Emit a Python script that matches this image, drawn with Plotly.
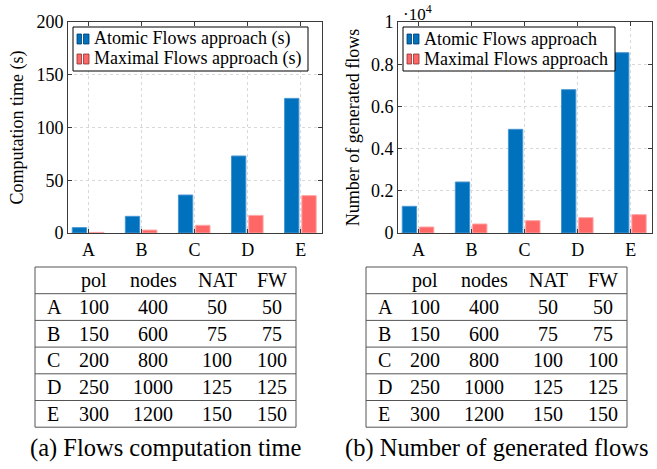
import plotly.graph_objects as go

# ---------------- data ----------------
categories = ["A", "B", "C", "D", "E"]
time_atomic = [5.1, 15.8, 36.0, 73.0, 127.6]
time_maximal = [0.6, 2.8, 7.3, 16.7, 35.4]
flows_atomic = [1264, 2417, 4913, 6793, 8547]
flows_maximal = [284, 427, 585, 727, 869]

flow_ticks = [0, 2000, 4000, 6000, 8000, 10000]
flow_ticktext = ["0", "0.2", "0.4", "0.6", "0.8", "1"]

legend_left = ["Atomic Flows approach (s)", "Maximal Flows approach (s)"]
legend_right = ["Atomic Flows approach", "Maximal Flows approach"]

table_header = ["pol", "nodes", "NAT", "FW"]
pol = [100, 150, 200, 250, 300]
nodes = [400, 600, 800, 1000, 1200]
nat = [50, 75, 100, 125, 150]
fw = [50, 75, 100, 125, 150]

captions = ["(a) Flows computation time", "(b) Number of generated flows"]

# ---------------- style ----------------
W, H = 657, 469
FONT = "Liberation Serif"
BLUE = "rgb(0,113,188)"
BLUE_EDGE = "rgb(70,150,210)"
BLUE_DARK = "rgb(0,60,110)"
RED = "rgb(255,102,102)"
RED_EDGE = "rgb(255,165,165)"
RED_DARK = "rgb(140,50,50)"
FRAME = "#3a3a3a"
GRID = "#d8d8d8"


def fx(p):
    return p / W


def fy(p):
    return 1 - p / H


fig = go.Figure()

bw = 0.27
off_a = -0.305
off_m = 0.02

fig.add_trace(go.Bar(x=categories, y=time_atomic, name=legend_left[0],
                     marker=dict(color=BLUE, line=dict(color=BLUE_EDGE, width=1)),
                     width=bw, offset=off_a, xaxis="x", yaxis="y"))
fig.add_trace(go.Bar(x=categories, y=time_maximal, name=legend_left[1],
                     marker=dict(color=RED, line=dict(color=RED_EDGE, width=1)),
                     width=bw, offset=off_m, xaxis="x", yaxis="y"))
fig.add_trace(go.Bar(x=categories, y=flows_atomic, name=legend_right[0],
                     marker=dict(color=BLUE, line=dict(color=BLUE_EDGE, width=1)),
                     width=bw, offset=off_a, xaxis="x2", yaxis="y2"))
fig.add_trace(go.Bar(x=categories, y=flows_maximal, name=legend_right[1],
                     marker=dict(color=RED, line=dict(color=RED_EDGE, width=1)),
                     width=bw, offset=off_m, xaxis="x2", yaxis="y2"))

tickfont = dict(family=FONT, size=18, color="black")
common_axis = dict(showline=True, linecolor=FRAME, linewidth=1, mirror="ticks",
                   ticks="inside", ticklen=4, tickcolor=FRAME, tickwidth=1,
                   showgrid=True, gridcolor=GRID, griddash="dot", gridwidth=1,
                   zeroline=False, tickfont=tickfont, automargin=False)

y_top, y_bot = 22, 233
xrange = [-0.385, 4.40]

fig.update_layout(
    width=W, height=H,
    margin=dict(l=0, r=0, t=0, b=0),
    paper_bgcolor="white", plot_bgcolor="white",
    font=dict(family=FONT, size=18, color="black"),
    barmode="overlay",
    showlegend=False,
    xaxis=dict(domain=[fx(68), fx(322)], anchor="y", range=xrange, **common_axis),
    yaxis=dict(domain=[fy(y_bot), fy(y_top)], anchor="x", range=[0, 200], dtick=50,
               title=dict(text="Computation time (s)", font=dict(family=FONT, size=18), standoff=8),
               **common_axis),
    xaxis2=dict(domain=[fx(398), fx(652)], anchor="y2", range=xrange, **common_axis),
    yaxis2=dict(domain=[fy(y_bot), fy(y_top)], anchor="x2", range=[0, 10000],
                tickvals=flow_ticks, ticktext=flow_ticktext,
                title=dict(text="Number of generated flows", font=dict(family=FONT, size=18), standoff=6),
                **common_axis),
)

# exponent label for right chart
fig.add_annotation(text="·10<sup>4</sup>", x=fx(401), y=fy(13), xref="paper", yref="paper",
                   xanchor="left", yanchor="middle", showarrow=False,
                   font=dict(family=FONT, size=17, color="black"))

# ---------------- legends (drawn as boxes + text) ----------------
legend_boxes = [(73, 308, legend_left), (403, 615, legend_right)]
leg_top, leg_bot = 27, 71
row_centers = [39, 59]
fills = [(BLUE, BLUE_DARK), (RED, RED_DARK)]
for lx0, lx1, names in legend_boxes:
    fig.add_shape(type="rect", xref="paper", yref="paper", layer="above",
                  x0=fx(lx0), x1=fx(lx1), y0=fy(leg_bot), y1=fy(leg_top),
                  fillcolor="white", line=dict(color="black", width=1))
    for i, name in enumerate(names):
        yc = row_centers[i]
        fc, lc = fills[i]
        for bx0, bx1 in [(lx0 + 4, lx0 + 8.5), (lx0 + 10.5, lx0 + 16)]:
            fig.add_shape(type="rect", xref="paper", yref="paper", layer="above",
                          x0=fx(bx0), x1=fx(bx1), y0=fy(yc + 5), y1=fy(yc - 5),
                          fillcolor=fc, line=dict(color=lc, width=0.8))
        fig.add_annotation(text=name, x=fx(lx0 + 19), y=fy(yc), xref="paper", yref="paper",
                           xanchor="left", yanchor="middle", showarrow=False,
                           font=dict(family=FONT, size=18, color="black"))

# ---------------- tables ----------------
rows = list(zip(categories, pol, nodes, nat, fw))
table_lefts = [35, 366]
table_w = 261
table_top = 267
row_h = 26.7
col_centers = [59, 118, 182, 237]
label_x = 10
LINE = "#555555"

for ti, tl in enumerate(table_lefts):
    n = len(rows) + 1
    bottom = table_top + n * row_h
    fig.add_shape(type="rect", xref="paper", yref="paper",
                  x0=fx(tl), x1=fx(tl + table_w), y0=fy(bottom), y1=fy(table_top),
                  line=dict(color=LINE, width=1))
    for k in range(1, n):
        yy = table_top + k * row_h
        fig.add_shape(type="line", xref="paper", yref="paper",
                      x0=fx(tl), x1=fx(tl + table_w), y0=fy(yy), y1=fy(yy),
                      line=dict(color=LINE, width=1))
    for ci, h in enumerate(table_header):
        fig.add_annotation(text=h, x=fx(tl + col_centers[ci]), y=fy(table_top + row_h / 2),
                           xref="paper", yref="paper", xanchor="center", yanchor="middle",
                           showarrow=False, font=dict(family=FONT, size=20, color="black"))
    for ri, row in enumerate(rows):
        yc = fy(table_top + (ri + 1.5) * row_h)
        fig.add_annotation(text=row[0], x=fx(tl + label_x), y=yc, xref="paper", yref="paper",
                           xanchor="left", yanchor="middle", showarrow=False,
                           font=dict(family=FONT, size=20, color="black"))
        for ci, v in enumerate(row[1:]):
            fig.add_annotation(text=str(v), x=fx(tl + col_centers[ci]), y=yc,
                               xref="paper", yref="paper", xanchor="center", yanchor="middle",
                               showarrow=False, font=dict(family=FONT, size=20, color="black"))
    fig.add_annotation(text=captions[ti], x=fx(tl + table_w / 2), y=fy(448),
                       xref="paper", yref="paper", xanchor="center", yanchor="middle",
                       showarrow=False, font=dict(family=FONT, size=24.5, color="black"))

fig.write_html("out.html", config={"displayModeBar": False},
               post_script="document.body.style.margin='0';document.body.style.padding='0';")
